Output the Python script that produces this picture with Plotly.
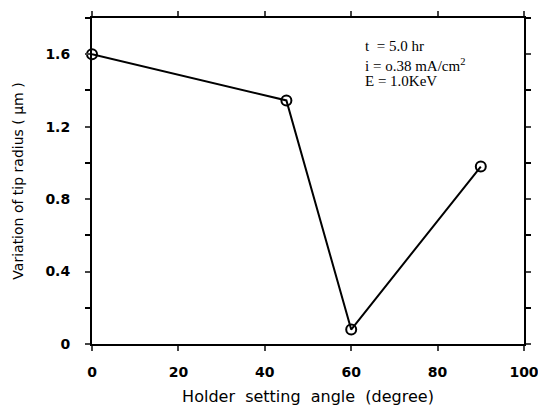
import plotly.graph_objects as go

angles = [0, 45, 60, 90]
radius_var = [1.6, 1.345, 0.08, 0.98]
x_ticks = [0, 20, 40, 60, 80, 100]
y_ticks = [0, 0.4, 0.8, 1.2, 1.6]
y_tick_labels = ["0", "0.4", "0.8", "1.2", "1.6"]
notes = ["t  = 5.0 hr", "i = o.38 mA/cm<sup>2</sup>", "E = 1.0KeV"]

fig = go.Figure()
fig.add_trace(go.Scatter(
    x=angles, y=radius_var, mode="lines+markers",
    line=dict(color="black", width=2),
    marker=dict(symbol="circle-open", size=10, color="black", line=dict(width=2)),
    cliponaxis=False, showlegend=False,
))

note_y = [0.913, 0.856, 0.808]
for t, yy in zip(notes, note_y):
    fig.add_annotation(x=0.627, y=yy, xref="paper", yref="paper",
                       text=t, showarrow=False, xanchor="left", yanchor="middle",
                       font=dict(family="Liberation Serif, Times New Roman, serif", size=15, color="black"))

tick_font = dict(family="DejaVu Sans, sans-serif", size=14, color="black", weight="bold")
fig.update_xaxes(range=[0, 100], tickvals=x_ticks, ticks="outside", ticklen=5, tickwidth=1.5,
                 showline=True, linecolor="black", linewidth=2, mirror="ticks",
                 showgrid=False, zeroline=False, tickfont=tick_font, ticklabelstandoff=9,
                 title=dict(text="Holder  setting  angle  (degree)",
                            font=dict(size=16, family="DejaVu Sans, sans-serif", color="black"), standoff=12))
fig.update_yaxes(range=[0, 1.8], tickvals=y_ticks, ticktext=y_tick_labels, ticks="outside", ticklen=5, tickwidth=1.5,
                 minor=dict(dtick=0.2, tick0=0, ticks="outside", ticklen=5, tickwidth=1.5, tickcolor="black"),
                 showline=True, linecolor="black", linewidth=2, mirror="ticks",
                 showgrid=False, zeroline=False, tickfont=tick_font, ticklabelstandoff=12,
                 title=dict(text="Variation of tip radius ( μm )",
                            font=dict(size=14, family="DejaVu Sans, sans-serif", color="black"), standoff=18))

fig.update_layout(width=538, height=401, margin=dict(l=84, r=22, t=3, b=65),
                  plot_bgcolor="white", paper_bgcolor="white")
fig.write_html("out.html")
